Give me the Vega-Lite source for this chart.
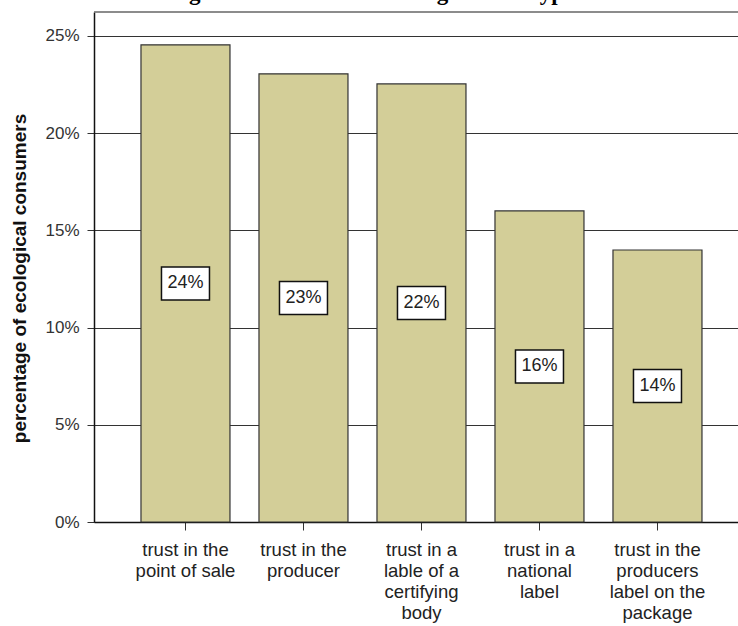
{
  "$schema": "https://vega.github.io/schema/vega-lite/v6.json",
  "width": 644,
  "height": 510,
  "autosize": {"type": "none"},
  "padding": {"left": 94, "top": 12, "right": 0, "bottom": 104},
  "config": {"view": {"stroke": null}, "font": "Liberation Sans"},
  "title": {
    "text": "Ecological consumers according to trust type",
    "font": "Liberation Serif",
    "fontSize": 23,
    "fontWeight": "bold",
    "color": "#000",
    "anchor": "start",
    "frame": "group",
    "dx": 40,
    "dy": 12,
    "offset": 0,
    "baseline": "alphabetic"
  },
  "data": {
    "values": [
      {"trust": "trust in the|point of sale", "value": 0.2454, "label": "24%"},
      {"trust": "trust in the|producer", "value": 0.2305, "label": "23%"},
      {"trust": "trust in a|lable of a|certifying|body", "value": 0.2253, "label": "22%"},
      {"trust": "trust in a|national|label", "value": 0.16, "label": "16%"},
      {"trust": "trust in the|producers|label on the|package", "value": 0.1399, "label": "14%"}
    ]
  },
  "encoding": {
    "x": {
      "field": "trust",
      "type": "nominal",
      "sort": null,
      "scale": {"paddingInner": 0.2458, "paddingOuter": 0.3517, "align": 0.566},
      "axis": {
        "title": null,
        "labelAngle": 0,
        "labelExpr": "split(datum.label, '|')",
        "labelFontSize": 18.5,
        "labelLineHeight": 21,
        "labelColor": "#222",
        "labelPadding": 10,
        "labelBaseline": "top",
        "domainColor": "#111",
        "domainWidth": 1.5,
        "tickColor": "#333",
        "tickSize": 8,
        "tickWidth": 1
      }
    }
  },
  "layer": [
    {
      "mark": {"type": "bar", "fill": "#d3ce98", "stroke": "#333", "strokeWidth": 1.2},
      "encoding": {
        "y": {
          "field": "value",
          "type": "quantitative",
          "scale": {"domain": [0, 0.2623], "nice": false},
          "axis": {
            "values": [0, 0.05, 0.1, 0.15, 0.2, 0.25],
            "format": ".0%",
            "title": "percentage of ecological consumers",
            "titleFontSize": 19,
            "titleFontWeight": "bold",
            "titleColor": "#111",
            "titlePadding": 15,
            "titleY": 266,
            "labelFontSize": 17,
            "labelColor": "#333",
            "labelPadding": 8,
            "tickSize": 7,
            "tickColor": "#333",
            "domainColor": "#111",
            "domainWidth": 1.5,
            "grid": true,
            "gridColor": "#333",
            "gridWidth": 1
          }
        }
      }
    },
    {
      "data": {"values": [{}]},
      "mark": {"type": "rule", "color": "#666", "strokeWidth": 1.5},
      "encoding": {
        "x": null,
        "y": {"datum": 0.2623, "type": "quantitative", "scale": {"domain": [0, 0.2623], "nice": false}, "axis": null}
      }
    },
    {
      "mark": {
        "type": "point",
        "shape": "M-1,-0.6875L1,-0.6875L1,0.6875L-1,0.6875Z",
        "size": 2304,
        "filled": true,
        "fill": "#fff",
        "stroke": "#111",
        "strokeWidth": 1.5,
        "opacity": 1
      },
      "encoding": {
        "y": {"field": "value", "type": "quantitative", "scale": {"domain": [0, 0.5246], "nice": false}, "axis": null}
      }
    },
    {
      "mark": {"type": "text", "fontSize": 18, "color": "#222", "baseline": "middle", "align": "center"},
      "encoding": {
        "y": {"field": "value", "type": "quantitative", "scale": {"domain": [0, 0.5246], "nice": false}, "axis": null},
        "text": {"field": "label"}
      }
    }
  ],
  "resolve": {"scale": {"y": "independent"}, "axis": {"y": "independent"}}
}
